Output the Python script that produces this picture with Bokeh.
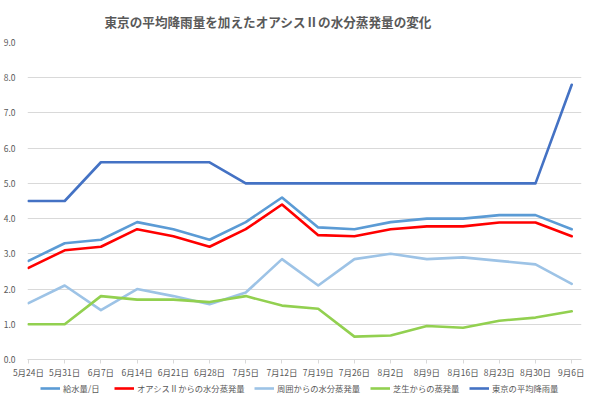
from bokeh.plotting import figure
from bokeh.models import Range1d, FixedTicker, Legend, LegendItem, Title
from bokeh.layouts import column
from bokeh.embed import file_html
from bokeh.resources import INLINE

# ---- data ----
dates = ["5月24日", "5月31日", "6月7日", "6月14日", "6月21日", "6月28日", "7月5日", "7月12日",
         "7月19日", "7月26日", "8月2日", "8月9日", "8月16日", "8月23日", "8月30日", "9月6日"]
supply = [2.8, 3.3, 3.4, 3.9, 3.7, 3.4, 3.9, 4.6, 3.75, 3.7, 3.9, 4.0, 4.0, 4.1, 4.1, 3.7]
oasis = [2.6, 3.1, 3.2, 3.7, 3.5, 3.2, 3.7, 4.4, 3.53, 3.5, 3.7, 3.78, 3.78, 3.89, 3.89, 3.5]
surround = [1.6, 2.1, 1.4, 2.0, 1.8, 1.57, 1.9, 2.85, 2.1, 2.85, 3.0, 2.85, 2.9, 2.8, 2.7, 2.15]
lawn = [1.0, 1.0, 1.8, 1.7, 1.7, 1.63, 1.8, 1.53, 1.44, 0.65, 0.68, 0.95, 0.9, 1.1, 1.19, 1.37]
rain = [4.5, 4.5, 5.6, 5.6, 5.6, 5.6, 5.0, 5.0, 5.0, 5.0, 5.0, 5.0, 5.0, 5.0, 5.0, 7.8]

series_names = ["給水量/日", "オアシスⅡからの水分蒸発量", "周囲からの水分蒸発量", "芝生からの蒸発量", "東京の平均降雨量"]
series_values = [supply, oasis, surround, lawn, rain]
series_colors = ["#5B9BD5", "#FF0000", "#9DC3E6", "#92D050", "#4472C4"]
y_ticks = [0, 1, 2, 3, 4, 5, 6, 7, 8, 9]
title_text = "東京の平均降雨量を加えたオアシスⅡの水分蒸発量の変化"

FONT = "Noto Sans CJK JP"
GRAY = "#595959"
GRID = "#D9D9D9"
LW = 2.6

xs = list(range(len(dates)))

p = figure(width=584, height=380, output_backend="svg", toolbar_location=None,
           title=None,
           x_range=Range1d(-0.027, 15.27), y_range=Range1d(0, 9),
           min_border_left=23, min_border_right=3, min_border_top=41, min_border_bottom=18)
p.outline_line_color = None
p.background_fill_color = "white"
p.border_fill_color = "white"

for vals, col in zip(series_values, series_colors):
    p.line(xs, vals, line_color=col, line_width=LW, line_join="round", line_cap="round")

# axes
p.xaxis.ticker = FixedTicker(ticks=xs)
p.xaxis.major_label_overrides = {i: d for i, d in enumerate(dates)}
p.xaxis.axis_line_color = GRID
p.xaxis.major_tick_line_color = GRID
p.xaxis.major_tick_out = 4
p.xaxis.major_tick_in = 0
p.xaxis.minor_tick_line_color = None
p.xaxis.major_label_standoff = 2
p.xaxis.major_label_text_font = FONT
p.xaxis.major_label_text_font_size = "8.5px"
p.xaxis.major_label_text_color = GRAY

p.yaxis.ticker = FixedTicker(ticks=y_ticks)
p.yaxis.major_label_overrides = {t: f"{t:.1f}" for t in y_ticks}
p.yaxis.axis_line_color = None
p.yaxis.major_tick_line_color = None
p.yaxis.minor_tick_line_color = None
p.yaxis.major_label_standoff = 6
p.yaxis.major_label_text_font = FONT
p.yaxis.major_label_text_font_size = "8.5px"
p.yaxis.major_label_text_color = GRAY

p.xgrid.grid_line_color = None
p.ygrid.grid_line_color = GRID
p.ygrid.grid_line_width = 1

p.add_layout(Title(text=title_text, align="left", offset=77, vertical_align="middle",
                   standoff=21, text_font=FONT, text_font_size="12.6px",
                   text_font_style="bold", text_color=GRAY), "above")

# ---- legend strip (separate small figure; its series lie outside its view) ----
lg = figure(width=584, height=17, output_backend="svg", toolbar_location=None,
            x_axis_type=None, y_axis_type=None, title=None,
            x_range=Range1d(-100, -99), y_range=Range1d(-100, -99),
            min_border=0, min_border_left=0, min_border_right=0,
            min_border_top=0, min_border_bottom=0)
lg.outline_line_color = None
lg.grid.visible = False
legend_x = [13, 87, 227, 343, 442]
for name, vals, col, lx in zip(series_names, series_values, series_colors, legend_x):
    r = lg.line(xs, vals, line_color=col, line_width=LW)
    leg = Legend(items=[LegendItem(label=name, renderers=[r])], location=(lx, 3),
                 orientation="horizontal",
                 glyph_width=20, glyph_height=12, label_height=12, label_standoff=3,
                 spacing=0, padding=0, margin=0,
                 label_text_font=FONT, label_text_font_size="8.3px", label_text_color=GRAY,
                 border_line_color=None, background_fill_alpha=0)
    lg.add_layout(leg, "center")

layout = column(p, lg, spacing=0)
open("out.html", "w").write(file_html(layout, INLINE))
